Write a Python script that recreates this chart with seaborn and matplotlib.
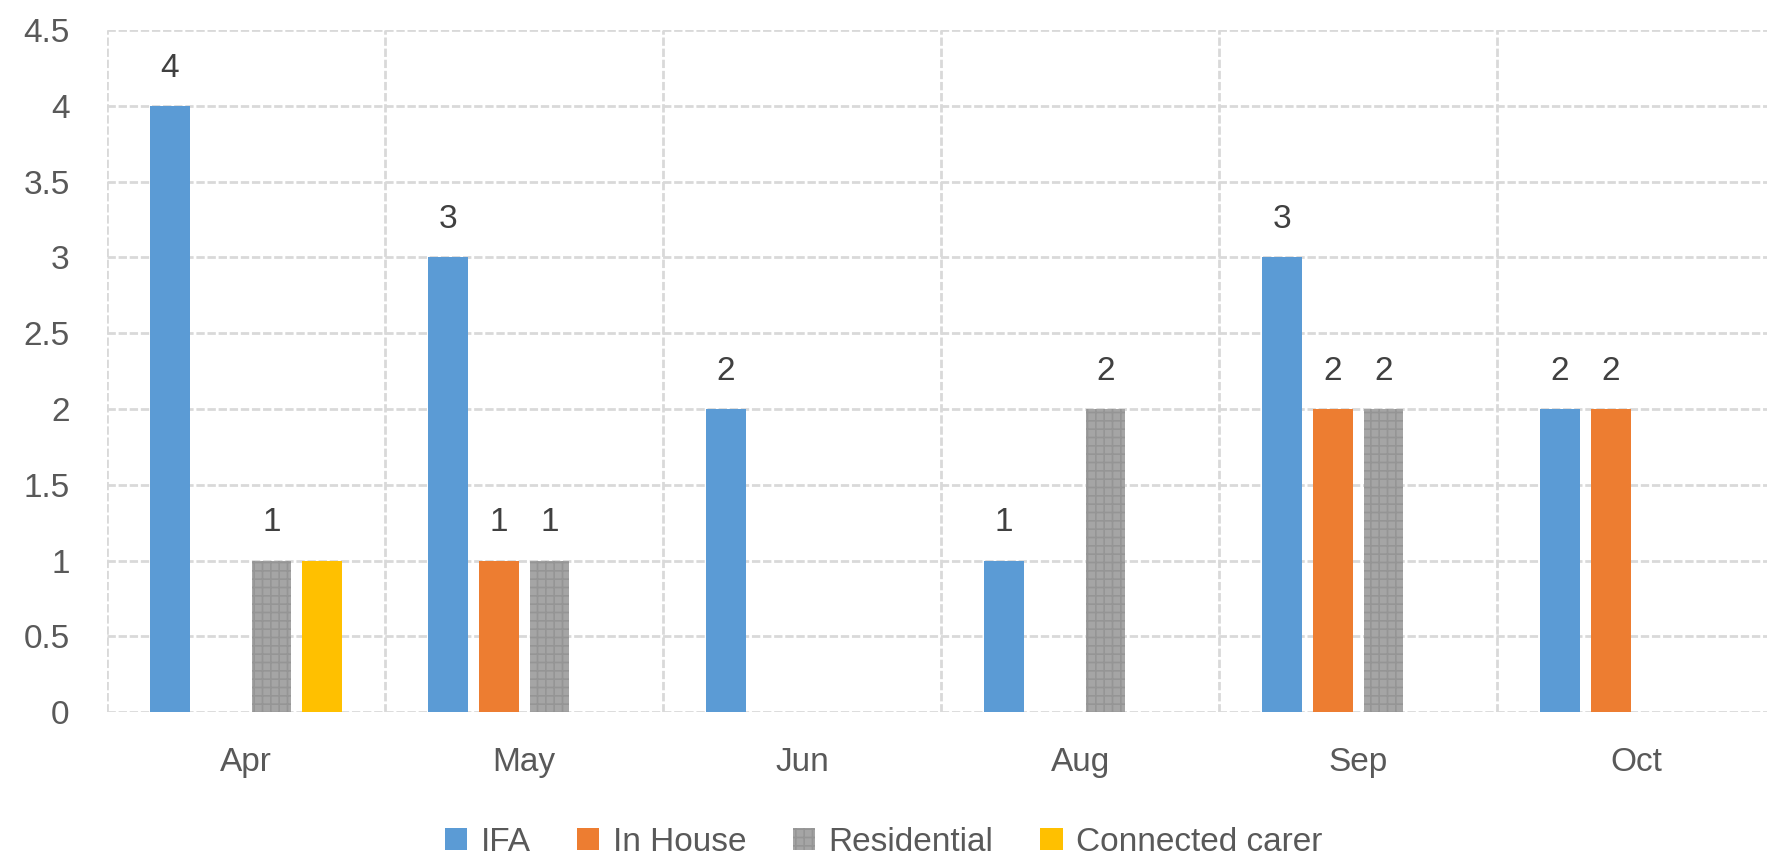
import numpy as np
import pandas as pd
import seaborn as sns
import matplotlib.pyplot as plt
from matplotlib.patches import Patch

months = ["Apr", "May", "Jun", "Aug", "Sep", "Oct"]
series = ["IFA", "In House", "Residential", "Connected carer"]
ifa = [4, 3, 2, 1, 3, 2]
in_house = [0, 1, 0, 0, 2, 2]
residential = [1, 1, 0, 2, 2, 0]
connected = [1, 0, 0, 0, 0, 0]
labelled_series = ["IFA", "In House", "Residential"]
y_ticks = [0, 0.5, 1, 1.5, 2, 2.5, 3, 3.5, 4, 4.5]

colors = ["#5b9bd5", "#ed7d31", "#a5a5a5", "#ffc000"]

rows = []
for s, vals in zip(series, [ifa, in_house, residential, connected]):
    for m, v in zip(months, vals):
        rows.append({"Month": m, "Series": s, "Value": v if v != 0 else np.nan})
df = pd.DataFrame(rows)

sns.set_theme(style="white")
plt.rcParams["font.family"] = ["Liberation Sans", "DejaVu Sans"]
plt.rcParams["hatch.linewidth"] = 1.2

fig = plt.figure(figsize=(17.67, 8.61), dpi=100)
ax = fig.add_axes([0.0606, 0.173, 0.944, 0.792])

sns.barplot(data=df, x="Month", y="Value", hue="Series", order=months,
            hue_order=series, palette=colors, width=0.73, gap=0.22,
            linewidth=0, saturation=1, ax=ax, legend=False, errorbar=None)

# texture on Residential bars
for p in ax.containers[2]:
    p.set_hatch("++")
    p.set_edgecolor("#959595")
    p.set_linewidth(0)

for s, c in zip(series, ax.containers):
    if s not in labelled_series:
        continue
    labels = ["" if (v is None or np.isnan(v) or v == 0) else f"{v:g}" for v in c.datavalues]
    ax.bar_label(c, labels=labels, padding=16, fontsize=24, color="#404040")

ax.set_ylim(0, 4.5)
ax.set_xlim(-0.5, 5.5)
ax.set_yticks(y_ticks)
ax.set_yticklabels([f"{t:g}" for t in y_ticks])
ax.set_xlabel("")
ax.set_ylabel("")

grid_kw = dict(color="#d9d9d9", linewidth=2, linestyle=(0, (3, 1)), zorder=0)
for t in y_ticks:
    ax.axhline(t, **grid_kw)
for xb in np.arange(-0.5, 6.0, 1.0):
    ax.axvline(xb, **grid_kw)
ax.set_axisbelow(True)

for sp in ax.spines.values():
    sp.set_visible(False)

ax.tick_params(axis="y", length=0, pad=27, labelsize=24, labelcolor="#595959")
ax.tick_params(axis="x", length=0, pad=25, labelsize=24, labelcolor="#595959")

handles = []
for s, col in zip(series, colors):
    if s == "Residential":
        handles.append(Patch(facecolor=col, edgecolor="#959595", hatch="++", linewidth=0, label=s))
    else:
        handles.append(Patch(facecolor=col, linewidth=0, label=s))
fig.legend(handles=handles, loc="center", bbox_to_anchor=(0.5, 0.022), ncol=4,
           frameon=False, fontsize=24, handlelength=0.67, handleheight=0.67,
           handletextpad=0.4, columnspacing=1.4, labelcolor="#595959")

fig.savefig("out.png", dpi=100)
